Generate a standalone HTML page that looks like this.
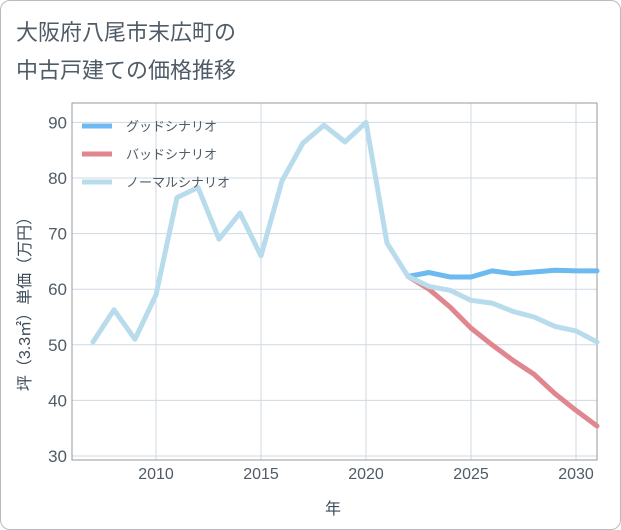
<!DOCTYPE html>
<html><head><meta charset="utf-8"><style>
body{margin:0;background:#fff;}
#wrap{position:relative;width:621px;height:530px;box-sizing:border-box;border:1px solid #bbb;border-radius:10px;overflow:hidden;background:#fff;}
#chart{position:absolute;left:-1px;top:-1px;}
svg text{font-family:"Liberation Sans","Noto Sans CJK JP",sans-serif;}
</style></head><body>
<div id="wrap">
<svg id="chart" width="621" height="530">
<text x="16" y="40" font-size="22" fill="#4f5b66">大阪府八尾市末広町の</text>
<text x="16" y="78" font-size="22" fill="#4f5b66">中古戸建ての価格推移</text>
<g id="grid"></g>
<rect x="72" y="103" width="525" height="357" fill="none" stroke="#999" stroke-width="1"/>
<g id="series"></g>
<g id="legend"></g>
<text x="333" y="514" font-size="16" fill="#3d4b59" text-anchor="middle">年</text>
<text transform="translate(30,300) rotate(-90)" font-size="16" fill="#3d4b59" text-anchor="middle">坪（3.3㎡）単価（万円）</text>
</svg>
</div>
<script>
const years=[2007,2008,2009,2010,2011,2012,2013,2014,2015,2016,2017,2018,2019,2020,2021,2022,2023,2024,2025,2026,2027,2028,2029,2030,2031];
const normalValues=[50.5,56.3,51,59,76.5,78.3,69,73.7,66,79.5,86.3,89.5,86.5,90,68.3,62.3,60.5,59.8,58,57.5,56,55,53.3,52.5,50.5];
const scenarioYears=[2022,2023,2024,2025,2026,2027,2028,2029,2030,2031];
const goodValues=[62.3,63,62.2,62.2,63.3,62.8,63.1,63.4,63.3,63.3];
const badValues=[62.3,60,56.8,53,50,47.2,44.7,41.2,38.2,35.4];
const xTicks=[2010,2015,2020,2025,2030];
const yTicks=[30,40,50,60,70,80,90];
const legendLabels=["グッドシナリオ","バッドシナリオ","ノーマルシナリオ"];
const NS="http://www.w3.org/2000/svg";
const x=v=>72+(v-2006)*21;
const y=v=>456-(v-30)*55.6/10;
const grid=document.getElementById('grid');
function mk(tag,attrs,parent){const e=document.createElementNS(NS,tag);for(const k in attrs)e.setAttribute(k,attrs[k]);parent.appendChild(e);return e;}
xTicks.forEach(t=>{
  const l=mk('line',{x1:x(t),x2:x(t),y1:103,y2:460,stroke:'#cfd9e3'},grid);
  
  
  const tx=mk('text',{x:x(t),y:479,'font-size':16,fill:'#4f5b66','text-anchor':'middle'},grid);
  tx.textContent=t;
  
  
});
yTicks.forEach(t=>{
  const l=mk('line',{x1:72,x2:597,y1:y(t),y2:y(t),stroke:'#cfd9e3'},grid);
  
  
  const tx=mk('text',{x:67,y:y(t)+6,'font-size':17,fill:'#4f5b66','text-anchor':'end'},grid);
  tx.textContent=t;
  
  
});
const series=document.getElementById('series');
function line(xs,vs,color,name){
  const d=xs.map((t,i)=>(i?'L':'M')+x(t)+','+y(vs[i])).join(' ');
  const p=mk('path',{d:d,fill:'none',stroke:color,'stroke-width':5,'stroke-linejoin':'round','stroke-linecap':'round'},series);
  
  
}
line(scenarioYears,badValues,'#e0868f','bad-scenario-line');
line(scenarioYears,goodValues,'#6cbaf0','good-scenario-line');
line(years,normalValues,'#b8dcec','normal-scenario-line');
const legend=document.getElementById('legend');
const colors=['#6cbaf0','#e0868f','#b8dcec'];
legendLabels.forEach((lab,i)=>{
  const yy=126+i*28;
  const l=mk('line',{x1:82,x2:112,y1:yy,y2:yy,stroke:colors[i],'stroke-width':5},legend);
  
  
  const t=mk('text',{x:126,y:yy+5,'font-size':13,fill:'#4f5b66'},legend);
  t.textContent=lab;
  
  
});
</script>
</body></html>
